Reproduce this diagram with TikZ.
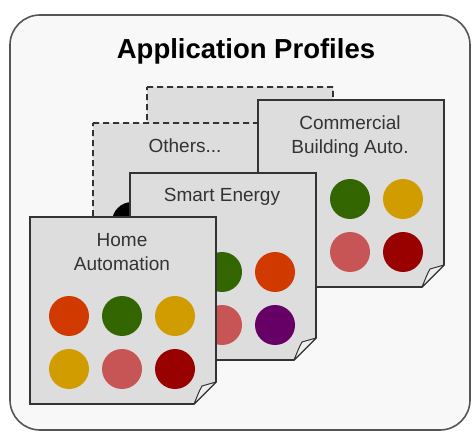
\documentclass[tikz,border=0pt]{standalone}
\usepackage{fontspec}
\setmainfont{Liberation Sans}
\begin{document}
\begin{tikzpicture}[x=1pt,y=-1pt,
  card/.style={fill=cardfill,draw=cardline,line width=1.6pt,line join=miter},
  dcard/.style={fill=cardfill,draw=cardline,line width=1.6pt,dash pattern=on 6pt off 4pt},
  fold/.style={fill=foldfill,draw=cardline,line width=1pt,line join=round},
  label/.style={font=\fontsize{19}{24}\selectfont,text=labeltext,align=center,inner sep=0pt},
  dot/.style={circle,minimum size=40pt,inner sep=0pt,draw=none,fill=#1}]
\definecolor{cardfill}{HTML}{DDDDDD}
\definecolor{cardline}{HTML}{333333}
\definecolor{foldfill}{HTML}{EEEEEE}
\definecolor{labeltext}{HTML}{333333}
\definecolor{outerfill}{HTML}{F8F8F8}
\definecolor{outerline}{HTML}{555555}
\definecolor{cOrange}{HTML}{D03A00}
\definecolor{cGreen}{HTML}{336600}
\definecolor{cGold}{HTML}{D09C00}
\definecolor{cPink}{HTML}{C85555}
\definecolor{cDark}{HTML}{990000}
\definecolor{cPurple}{HTML}{660066}
\newcommand\pcard[3]{%
  \path[#3] (#1,#2) -- ++(186,0) -- ++(0,165) -- ++(-22,22) -- ++(-164,0) -- cycle;
  \path[fold] (#1+164,#2+187) .. controls (#1+167,#2+180) and (#1+169,#2+174) .. (#1+172,#2+169) -- (#1+186,#2+165) -- cycle;}
\fill[white] (0,0) rectangle (476,443);
\useasboundingbox (0,0) rectangle (476,443);
\draw[fill=outerfill,draw=outerline,line width=1.6pt,rounded corners=30pt] (10,15) rectangle (470,430);
\node[font=\bfseries\fontsize{27.5}{32}\selectfont,text=black] (title) at (246,51) {Application Profiles};
% back dashed card
\pcard{147}{87}{dcard}
% others card
\pcard{93}{123}{dcard}
\node[label] (others) at (185,146) {Others...};
\node[dot=black] (o1) at (132,222) {};
% commercial
\pcard{258}{100}{card}
\node[label] (comm) at (350,137) {Commercial\\Building Auto.};
\node[dot=cOrange] (c1) at (297,199) {};
\node[dot=cGreen] (c2) at (350,199) {};
\node[dot=cGold] (c3) at (403,199) {};
\node[dot=cGold] (c4) at (297,252) {};
\node[dot=cPink] (c5) at (350,252) {};
\node[dot=cDark] (c6) at (403,252) {};
% smart energy
\pcard{130}{173}{card}
\node[label] (smart) at (222,197) {Smart Energy};
\node[dot=cGreen] (s2) at (222,272) {};
\node[dot=cOrange] (s3) at (275,272) {};
\node[dot=cPink] (s5) at (222,325) {};
\node[dot=cPurple] (s6) at (275,325) {};
% home automation
\pcard{30}{217}{card}
\node[label] (home) at (122,252) {Home\\Automation};
\node[dot=cOrange] (h1) at (69,316) {};
\node[dot=cGreen] (h2) at (122,316) {};
\node[dot=cGold] (h3) at (175,316) {};
\node[dot=cGold] (h4) at (69,369) {};
\node[dot=cPink] (h5) at (122,369) {};
\node[dot=cDark] (h6) at (175,369) {};
\end{tikzpicture}
\end{document}
